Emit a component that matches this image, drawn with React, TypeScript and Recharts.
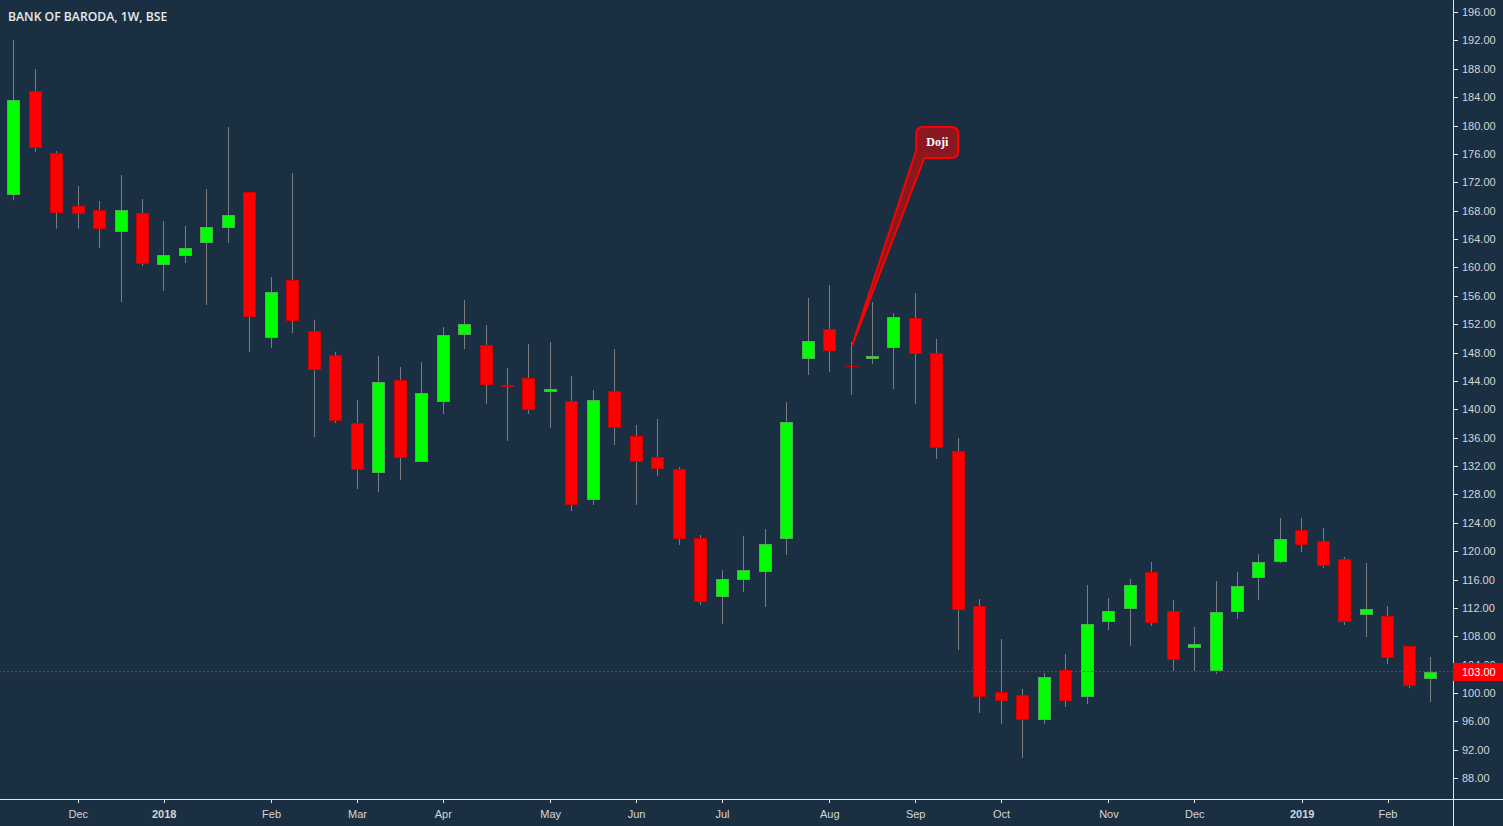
import { ComposedChart, Bar, XAxis, YAxis, ReferenceLine, ReferenceDot } from 'recharts'

const WIDTH = 1503
const HEIGHT = 826
const AXIS_X = 1453
const AXIS_Y = 799

const BG = '#1b2f42'
const LINE = '#e4e6e8'
const TEXT = '#d3d6d9'
const SANS = '"Liberation Sans", Arial, sans-serif'

const opens = [
  170.23, 184.85, 176.11, 168.64, 168.07, 165.01, 167.61, 160.36, 161.63, 163.46, 165.58, 170.61,
  150.07, 158.21, 150.97, 147.59, 138.0, 131.04, 144.11, 132.55, 141.05, 150.5, 149.04, 143.4,
  144.39, 142.42, 141.15, 127.19, 142.56, 136.21, 133.25, 131.56, 121.83, 113.52, 115.91, 117.04,
  121.69, 147.11, 151.3, 146.08, 147.07, 148.62, 152.85, 147.91, 134.1, 112.25, 100.12, 99.7,
  96.17, 103.22, 99.42, 109.99, 111.82, 117.04, 111.54, 106.33, 103.08, 111.4, 116.19, 118.45,
  122.96, 121.41, 118.87, 110.98, 110.84, 106.61, 101.95,
]
const closes = [
  183.58, 176.86, 167.69, 167.55, 165.44, 168.07, 160.5, 161.73, 162.72, 165.68, 167.37, 153.03,
  156.51, 152.47, 145.56, 138.37, 131.46, 143.81, 133.15, 142.27, 150.45, 151.96, 143.4, 143.12,
  139.92, 142.84, 126.49, 141.29, 137.38, 132.59, 131.6, 121.69, 112.85, 116.05, 117.32, 120.99,
  138.19, 149.61, 148.24, 145.94, 147.49, 152.99, 147.82, 134.56, 111.73, 99.46, 98.85, 96.17,
  102.24, 98.85, 109.71, 111.54, 115.21, 109.85, 104.63, 106.89, 111.4, 115.07, 118.45, 121.69,
  120.85, 117.89, 109.99, 111.82, 104.92, 100.97, 102.94,
]
const highs = [
  192.04, 187.95, 176.39, 171.46, 169.34, 173.01, 169.63, 166.52, 165.82, 171.04, 179.78, 170.61,
  158.63, 173.29, 152.57, 148.06, 141.29, 147.49, 145.94, 146.65, 151.58, 155.39, 151.86, 145.8,
  149.18, 149.46, 144.67, 142.7, 148.48, 137.76, 138.61, 131.84, 122.26, 117.32, 122.12, 123.1,
  141.01, 155.67, 157.5, 149.46, 155.1, 153.55, 156.37, 149.89, 135.93, 113.23, 107.59, 100.55,
  102.8, 105.48, 115.21, 113.37, 116.05, 118.45, 113.09, 109.29, 115.77, 117.04, 119.58, 124.65,
  124.65, 123.24, 119.15, 118.31, 112.25, 106.61, 105.06,
]
const lows = [
  169.48, 176.25, 165.44, 165.44, 162.72, 155.1, 160.18, 156.66, 160.6, 154.68, 163.42, 148.06,
  148.62, 150.73, 136.07, 138.05, 128.74, 128.32, 130.01, 132.55, 139.31, 148.48, 140.72, 135.51,
  139.31, 137.34, 125.64, 126.49, 134.94, 126.49, 130.57, 120.85, 112.39, 109.71, 114.22, 112.11,
  119.44, 144.81, 145.24, 141.99, 146.36, 142.84, 140.72, 132.97, 106.04, 97.16, 95.61, 90.82,
  95.61, 98.01, 98.43, 108.86, 106.61, 109.43, 103.08, 103.08, 102.66, 110.41, 113.09, 118.31,
  119.86, 117.61, 109.57, 107.88, 104.07, 100.68, 98.71,
]

const timeTicks = [3, 7, 12, 16, 20, 25, 29, 33, 38, 42, 46, 51, 55, 60, 64]
const timeLabels = ['Dec', '2018', 'Feb', 'Mar', 'Apr', 'May', 'Jun', 'Jul', 'Aug', 'Sep', 'Oct', 'Nov', 'Dec', '2019', 'Feb']
const priceTicks = [196, 192, 188, 184, 180, 176, 172, 168, 164, 160, 156, 152, 148, 144, 140, 136, 132, 128, 124, 120, 116, 112, 108, 104, 100, 96, 92, 88]
const lastPrice = 103
const dojiIndex = 39
const dojiTip = 149.04

const data = opens.map((open, idx) => ({
  idx,
  open,
  close: closes[idx],
  high: highs[idx],
  low: lows[idx],
  range: [lows[idx], highs[idx]],
}))

const Candle = ({ x, y, width, height, payload }: any) => {
  const { open, close, high, low } = payload
  const perUnit = height / (high - low)
  const toY = (p: number) => y + (high - p) * perUnit
  const center = Math.floor(x + width / 2)
  const up = close >= open
  const top = Math.round(toY(Math.max(open, close))) + 0.5
  const bottom = Math.max(Math.round(toY(Math.min(open, close))) - 0.5, top)
  return (
    <g>
      <line x1={center + 0.5} x2={center + 0.5} y1={y} y2={y + height} stroke="#7a7d80" strokeWidth={1} />
      {/* a zero height rect paints nothing, the doji still needs its dash */}
      <rect
        x={center - 5.5}
        y={top}
        width={12}
        height={Math.max(bottom - top, 0.01)}
        fill={up ? '#00ff00' : '#ff0000'}
        stroke={up ? '#4caf50' : '#d50000'}
        strokeWidth={1}
      />
    </g>
  )
}

const TimeTick = ({ x, y, payload }: any) => {
  const label = timeLabels[timeTicks.indexOf(payload.value)]
  const tx = Math.floor(x) + 0.5
  return (
    <g>
      <line x1={tx} x2={tx} y1={y} y2={y + 4} stroke={LINE} />
      <text x={x} y={y + 19} textAnchor="middle" fontSize={11} fontFamily={SANS} fill={TEXT} fontWeight={label.length === 4 ? 700 : 400}>
        {label}
      </text>
    </g>
  )
}

const PriceTick = ({ x, y, payload }: any) => {
  const ty = Math.round(y + 0.2)
  if (payload.value === lastPrice) {
    return (
      <g>
        <rect x={x} y={ty - 9} width={50} height={18} fill="#ff0000" />
        <text x={x + 9} y={ty + 4} fontSize={11} fontFamily={SANS} fill="#ffffff">
          {payload.value.toFixed(2)}
        </text>
      </g>
    )
  }
  return (
    <g>
      <line x1={x} x2={x + 5} y1={ty + 0.5} y2={ty + 0.5} stroke={LINE} />
      <text x={x + 9} y={ty + 4} fontSize={11} fontFamily={SANS} fill={TEXT}>
        {payload.value.toFixed(2)}
      </text>
    </g>
  )
}

// box sits up and to the right of the doji candle, tip is the dot position
const DojiCallout = ({ cx, cy }: any) => {
  const p = (dx: number, dy: number) => `${cx + dx} ${cy + dy}`
  const d = [
    `M ${p(1, 0)}`,
    `L ${p(65, -195)}`,
    `L ${p(65, -211)}`,
    `Q ${p(65, -218)} ${p(72, -218)}`,
    `L ${p(100, -218)}`,
    `Q ${p(107, -218)} ${p(107, -211)}`,
    `L ${p(107, -194)}`,
    `Q ${p(107, -187)} ${p(100, -187)}`,
    `L ${p(73, -187)}`,
    'Z',
  ].join(' ')
  return (
    <g>
      <path d={d} fill="#8b1820" stroke="#ff0000" strokeWidth={2} strokeLinejoin="round" />
      <text x={cx + 86} y={cy - 199} textAnchor="middle" fontSize={12} fontWeight={700} fontFamily='"Liberation Serif", serif' fill="#ffffff">
        Doji
      </text>
    </g>
  )
}

const App = () => (
  <div style={{ position: 'fixed', left: 0, top: 0, width: WIDTH, height: HEIGHT, background: BG, overflow: 'hidden' }}>
    <ComposedChart
      width={WIDTH}
      height={HEIGHT}
      data={data}
      margin={{ top: 0, right: 0, bottom: 0, left: 0 }}
    >
      <XAxis
        dataKey="idx"
        type="category"
        ticks={timeTicks}
        interval={0}
        height={HEIGHT - AXIS_Y}
        padding={{ left: 3.2, right: 11.3 }}
        axisLine={false}
        tickLine={false}
        tickSize={0}
        tickMargin={0}
        tick={<TimeTick />}
      />
      <YAxis
        orientation="right"
        width={WIDTH - AXIS_X}
        domain={[85.04, 197.68]}
        allowDataOverflow
        ticks={[...priceTicks, lastPrice]}
        interval={0}
        axisLine={false}
        tickLine={false}
        tickSize={0}
        tickMargin={0}
        tick={<PriceTick />}
      />
      <Bar dataKey="range" barSize={13} isAnimationActive={false} shape={<Candle />} />
      <ReferenceLine y={lastPrice} stroke="#e01414" strokeDasharray="2 2" />
      <ReferenceDot x={dojiIndex} y={dojiTip} ifOverflow="visible" shape={<DojiCallout />} />
      <line x1={0} x2={WIDTH} y1={AXIS_Y + 0.5} y2={AXIS_Y + 0.5} stroke={LINE} />
      <line x1={AXIS_X + 0.5} x2={AXIS_X + 0.5} y1={0} y2={HEIGHT} stroke={LINE} />
      <text x={8} y={21} fontSize={12.2} fontWeight={600} fontFamily='"Open Sans", sans-serif' fill="#e8eaec">
        BANK OF BARODA, 1W, BSE
      </text>
    </ComposedChart>
  </div>
)

export default App
